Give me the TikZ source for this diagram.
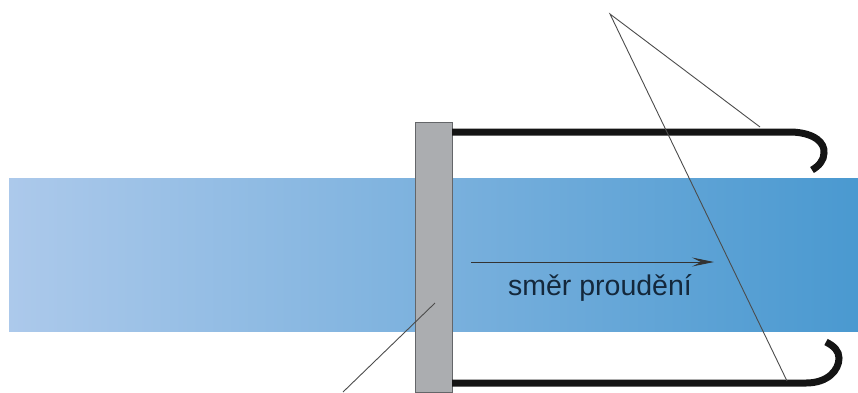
\documentclass[tikz,border=0pt]{standalone}
\usepackage{fontspec}
\setmainfont{Liberation Sans}
\usepackage{xcolor}
\usetikzlibrary{arrows.meta, positioning, calc}
\definecolor{FlowLight}{RGB}{172, 201, 235}
\definecolor{FlowDark}{RGB}{74, 153, 208}
\definecolor{PlateGrey}{RGB}{171, 173, 176}
\definecolor{PlateEdge}{RGB}{100, 102, 105}
\definecolor{LabelInk}{RGB}{20, 40, 60}
\tikzset{
  leaderline/.style={draw=black!70, line width=0.9pt},
  tubeline/.style={draw=black!92, line width=7pt},
}

\begin{document}
\begin{tikzpicture}[x=1pt, y=-1pt]
  \useasboundingbox (0,0) rectangle (858,392);
  \node[left color=FlowLight, right color=FlowDark, draw=none, anchor=north west,
        minimum width=849pt, minimum height=153pt, inner sep=0pt] (flowband) at (9,178) {};
  \node[fill=PlateGrey, draw=PlateEdge, line width=1pt, anchor=north west,
        minimum width=37pt, minimum height=270pt, inner sep=0pt] (plate) at (415,122) {};

  % hooks
  \coordinate (topstart) at (452,132);
  \coordinate (topend) at (812,170);
  \coordinate (botstart) at (452,383);
  \coordinate (botend) at (826,342);
  \draw[tubeline] (topstart) -- (792,132)
    .. controls (815,133) and (825,143) .. (824,153)
    .. controls (824,160) and (819,166) .. (topend);
  \draw[tubeline] (botstart) -- (806,383)
    .. controls (828,383) and (839,370) .. (839,358)
    .. controls (839,351) and (834,346) .. (botend);

  % flow direction
  \coordinate (flowstart) at (471,262);
  \coordinate (flowend) at (714,262);
  \draw[draw=black!80, line width=1pt, -{Stealth[length=22pt, width=9pt, inset=9pt]}] (flowstart) -- (flowend);
  \node[text=LabelInk, font=\fontsize{28.5}{32}\selectfont, anchor=base, inner sep=0pt] (flowlabel) at (600,295) {směr proudění};

  % leaders
  \coordinate (apex) at (610,14);
  \coordinate (toptube) at (760,127);
  \coordinate (bottube) at (787,381);
  \coordinate (platepoint) at (435,303);
  \coordinate (plateleader) at (343,392);
  \draw[leaderline] (toptube) -- (apex) -- (bottube);
  \draw[leaderline] (platepoint) -- (plateleader);
\end{tikzpicture}
\end{document}
